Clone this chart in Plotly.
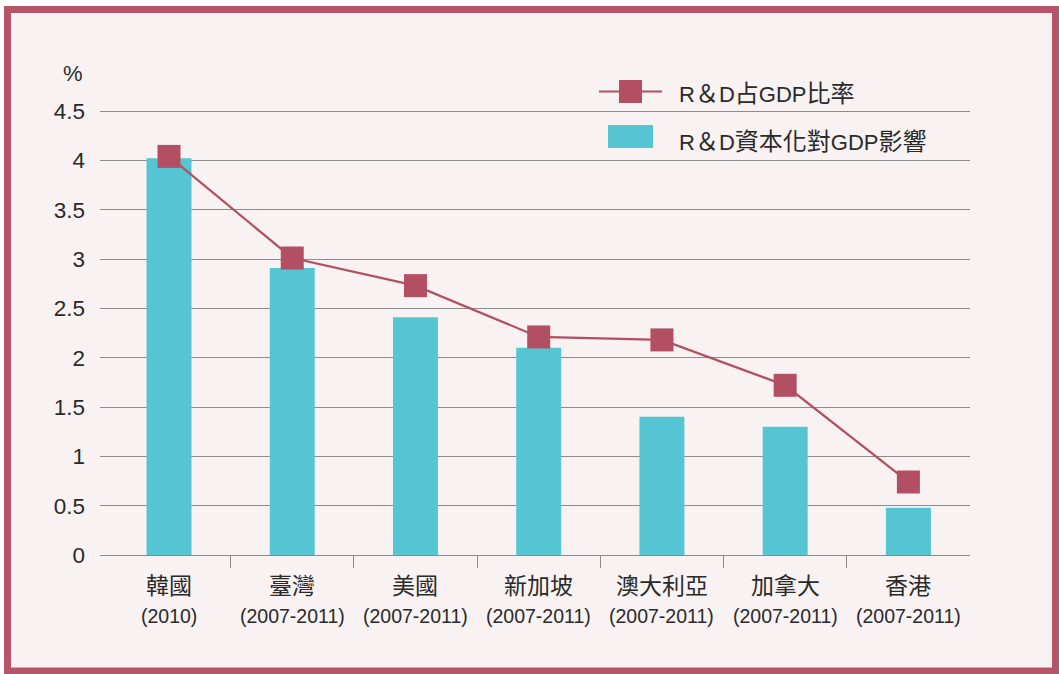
import plotly.graph_objects as go

# ---- data ----
countries = ["韓國", "臺灣", "美國", "新加坡", "澳大利亞", "加拿大", "香港"]
periods = ["(2010)", "(2007-2011)", "(2007-2011)", "(2007-2011)", "(2007-2011)", "(2007-2011)", "(2007-2011)"]
rd_capital_impact = [4.02, 2.91, 2.41, 2.10, 1.40, 1.30, 0.48]
rd_gdp_ratio = [4.04, 3.01, 2.73, 2.21, 2.18, 1.72, 0.74]
y_ticks = [0, 0.5, 1, 1.5, 2, 2.5, 3, 3.5, 4, 4.5]
y_tick_text = ["0", "0.5", "1", "1.5", "2", "2.5", "3", "3.5", "4", "4.5"]
legend_line_parts = [("R", "latin"), ("＆", "cjk"), ("D", "latin"), ("占", "cjk"), ("GDP", "latin"), ("比率", "cjk")]
legend_bar_parts = [("R", "latin"), ("＆", "cjk"), ("D", "latin"), ("資本化對", "cjk"), ("GDP", "latin"), ("影響", "cjk")]

W, H = 1059, 674
L, R, T, B = 100, 970, 109, 555
Y_MAX = 4.5 * (B - T) / (555 - 111)

def px(x):
    return (x - L) / (R - L)

def py(y):
    return (B - y) / (B - T)

BAR_COLOR = "#55c5d3"
LINE_COLOR = "#b24f62"
BORDER = "#b6546a"
BG = "#f8f2f2"
TXT = "#2a2a2a"
GRID = "#8c8c8c"
LATIN = "Liberation Sans, Arial, Noto Sans CJK TC, sans-serif"
CJK = "Noto Sans CJK TC, sans-serif"
X_RANGE = [-0.56, len(countries) - 0.5]

def rich(parts, latin_size, cjk_size):
    out = []
    for s, kind in parts:
        if kind == "latin":
            out.append(f"<span style='font-family:Liberation Sans;font-size:{latin_size}px'>{s}</span>")
        else:
            out.append(f"<span style='font-family:Noto Sans CJK TC;font-size:{cjk_size}px'>{s}</span>")
    return "".join(out)

fig = go.Figure()
fig.add_trace(go.Bar(
    x=countries, y=rd_capital_impact, width=0.365,
    marker=dict(color=BAR_COLOR, line=dict(width=0)),
    name="R＆D資本化對GDP影響", showlegend=False,
))
fig.add_trace(go.Scatter(
    x=countries, y=rd_gdp_ratio, mode="lines+markers",
    line=dict(color=LINE_COLOR, width=2.2),
    marker=dict(symbol="square", size=23, color=LINE_COLOR),
    name="R＆D占GDP比率", showlegend=False,
))
# empty helper trace so the overlay axis (category separator ticks) is drawn
fig.add_trace(go.Scatter(x=[], y=[], xaxis="x2", yaxis="y",
                         showlegend=False, hoverinfo="skip"))

shapes = [
    # background + border frame
    dict(type="rect", xref="paper", yref="paper", layer="below",
         x0=px(7.5), x1=px(1055.5), y0=py(671), y1=py(9.5),
         line=dict(color=BORDER, width=7), fillcolor=BG),
    # legend symbols
    dict(type="line", xref="paper", yref="paper",
         x0=px(599), x1=px(662), y0=py(91.5), y1=py(91.5),
         line=dict(color=LINE_COLOR, width=2.2)),
    dict(type="rect", xref="paper", yref="paper",
         x0=px(619), x1=px(642), y0=py(103), y1=py(80),
         line=dict(width=0), fillcolor=LINE_COLOR),
    dict(type="rect", xref="paper", yref="paper",
         x0=px(608), x1=px(653), y0=py(148), y1=py(125),
         line=dict(width=0), fillcolor=BAR_COLOR),
]

annotations = [
    dict(text="%", xref="paper", yref="paper", x=px(85), y=py(73),
         xanchor="right", yanchor="middle", showarrow=False,
         font=dict(family=LATIN, size=22, color=TXT)),
    dict(text=rich(legend_line_parts, 22, 24), xref="paper", yref="paper", x=px(677), y=py(91),
         xanchor="left", yanchor="middle", showarrow=False,
         font=dict(family=LATIN, size=22, color=TXT)),
    dict(text=rich(legend_bar_parts, 22, 24), xref="paper", yref="paper", x=px(677), y=py(139),
         xanchor="left", yanchor="middle", showarrow=False,
         font=dict(family=LATIN, size=22, color=TXT)),
]
for c, p in zip(countries, periods):
    annotations.append(dict(text=c, xref="x", yref="paper", x=c, y=py(584),
                            xanchor="center", yanchor="middle", showarrow=False,
                            font=dict(family=CJK, size=23, color=TXT)))
    annotations.append(dict(text=p, xref="x", yref="paper", x=c, y=py(616),
                            xanchor="center", yanchor="middle", showarrow=False,
                            font=dict(family=LATIN, size=19.5, color=TXT)))

fig.update_layout(
    width=W, height=H,
    margin=dict(l=L, r=W - R, t=T, b=H - B, pad=0),
    paper_bgcolor="white",
    plot_bgcolor="rgba(0,0,0,0)",
    shapes=shapes,
    annotations=annotations,
    showlegend=False,
    xaxis=dict(
        type="category", range=X_RANGE,
        showgrid=False, showticklabels=False,
        showline=True, linecolor=GRID, linewidth=1.3,
        ticks="",
        fixedrange=True,
    ),
    # overlay axis only to draw the category separator ticks
    xaxis2=dict(
        overlaying="x", anchor="y", side="bottom", type="linear",
        range=X_RANGE,
        tickmode="array",
        tickvals=[i + 0.5 for i in range(len(countries) - 1)],
        ticks="outside", ticklen=12, tickcolor=GRID, tickwidth=1.3,
        showticklabels=False, showgrid=False, showline=False, zeroline=False,
        fixedrange=True,
    ),
    yaxis=dict(
        range=[0, Y_MAX], tickvals=y_ticks, ticktext=y_tick_text,
        showgrid=True, gridcolor=GRID, gridwidth=1.3,
        zeroline=False, showline=False, ticks="",
        ticklabelstandoff=14,
        tickfont=dict(family=LATIN, size=22.5, color=TXT),
        fixedrange=True,
    ),
)

fig.write_html("out.html", config={"displayModeBar": False},
               post_script="document.body.style.margin='0px';document.body.style.padding='0px';")
